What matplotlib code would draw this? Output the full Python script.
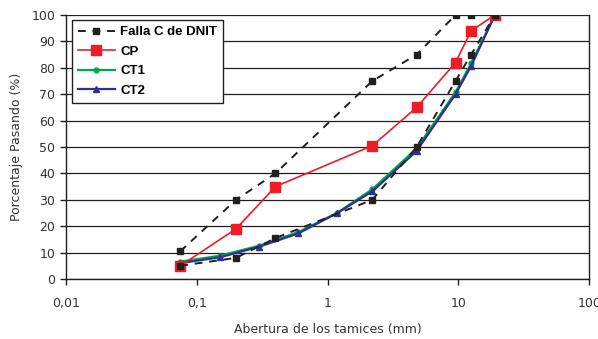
import numpy as np
import matplotlib
matplotlib.use("Agg")
import matplotlib.pyplot as plt
from matplotlib.ticker import FixedLocator, NullLocator

# sieve openings (mm) and percent passing
dnit_x = [0.075, 0.2, 0.4, 2.2, 4.8, 9.5, 12.5, 19]
dnit_upper = [10.5, 30, 40, 75, 85, 100, 100, 100]
dnit_lower = [5, 8, 15.5, 30, 50, 75, 85, 100]

cp_x = [0.075, 0.2, 0.4, 2.2, 4.8, 9.5, 12.5, 19]
cp_y = [5, 19, 35, 50.5, 65, 82, 94, 100]

ct_x = [0.075, 0.15, 0.3, 0.6, 1.18, 2.2, 4.8, 9.5, 12.5, 19]
ct1_y = [6.6, 8.8, 12.6, 17.8, 25, 34, 49.5, 70.7, 81.7, 100]
ct2_y = [6.0, 8.2, 12.2, 17.3, 24.9, 33.2, 48.5, 70, 80.7, 100]

x_ticks = [0.01, 0.1, 1, 10, 100]
x_labels = ["0,01", "0,1", "1", "10", "100"]
y_ticks = list(range(0, 101, 10))

plt.rcParams['font.family'] = ['DejaVu Sans']
txt = '#333333'

fig = plt.figure(figsize=(5.98, 3.39), dpi=100)
ax = fig.add_axes([0.1099, 0.177, 0.8756, 0.7788])

ax.plot(ct_x, ct1_y, color='#00a651', lw=1.6, marker='o', ms=3.5, label='CT1', zorder=3)
ax.plot(ct_x, ct2_y, color='#2e3192', lw=1.6, marker='^', ms=4.5, label='CT2', zorder=4)
ax.plot(cp_x, cp_y, color='#ee1c25', lw=1.2, marker='s', ms=7, label='CP', zorder=5)
ax.plot(dnit_x, dnit_upper, color='#231f20', lw=1.4, ls=(0, (4, 3.5)), marker='s', ms=4.5,
        label='Falla C de DNIT', zorder=6)
ax.plot(dnit_x, dnit_lower, color='#231f20', lw=1.4, ls=(0, (4, 3.5)), marker='s', ms=4.5,
        zorder=6)

ax.set_xscale('log')
ax.set_xlim(0.01, 100)
ax.set_ylim(0, 100)
ax.xaxis.set_major_locator(FixedLocator(x_ticks))
ax.xaxis.set_minor_locator(NullLocator())
ax.set_xticklabels(x_labels)
ax.set_yticks(y_ticks)

ax.grid(axis='y', color='#231f20', lw=0.9)
ax.set_axisbelow(True)
for s in ['left', 'bottom', 'right']:
    ax.spines[s].set_color('#231f20')
    ax.spines[s].set_linewidth(1.0)
ax.spines['top'].set_visible(False)
ax.tick_params(axis='both', direction='out', length=4, width=1, color='#231f20',
               labelsize=9, labelcolor=txt)
ax.tick_params(axis='x', pad=9)

ax.set_xlabel('Abertura de los tamices (mm)', fontsize=9, color=txt, labelpad=9)
ax.set_ylabel('Porcentaje Pasando (%)', fontsize=9, color=txt, labelpad=6)

handles, labels = ax.get_legend_handles_labels()
order = [3, 2, 0, 1]
leg = ax.legend([handles[i] for i in order], [labels[i] for i in order],
                loc='upper left', bbox_to_anchor=(0.012, 0.981), borderaxespad=0,
                frameon=True, fancybox=False,
                edgecolor='#231f20', framealpha=1, handlelength=2.8, handletextpad=0.4,
                labelspacing=0.55, borderpad=0.45,
                prop={'family': ['Liberation Sans', 'DejaVu Sans'], 'weight': 'bold', 'size': 9.5})
leg.get_frame().set_linewidth(1.0)

fig.savefig('out.png', dpi=100)
